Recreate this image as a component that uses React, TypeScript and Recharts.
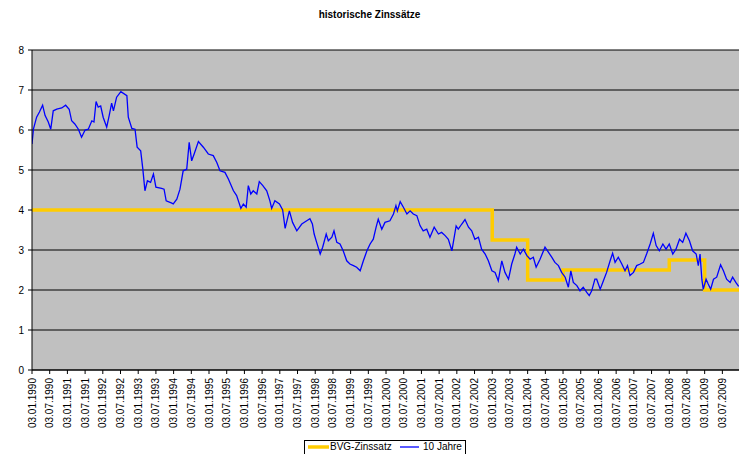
import React from "react";
import { LineChart, Line, XAxis, YAxis, CartesianGrid } from "recharts";

const TITLE = "historische Zinssätze";
const SERIES_BVG = "BVG-Zinssatz";
const SERIES_10Y = "10 Jahre";

const X_TICK_LABELS = [
  "03.01.1990", "03.07.1990", "03.01.1991", "03.07.1991", "03.01.1992", "03.07.1992",
  "03.01.1993", "03.07.1993", "03.01.1994", "03.07.1994", "03.01.1995", "03.07.1995",
  "03.01.1996", "03.07.1996", "03.01.1997", "03.07.1997", "03.01.1998", "03.07.1998",
  "03.01.1999", "03.07.1999", "03.01.2000", "03.07.2000", "03.01.2001", "03.07.2001",
  "03.01.2002", "03.07.2002", "03.01.2003", "03.07.2003", "03.01.2004", "03.07.2004",
  "03.01.2005", "03.07.2005", "03.01.2006", "03.07.2006", "03.01.2007", "03.07.2007",
  "03.01.2008", "03.07.2008", "03.01.2009", "03.07.2009",
];
const Y_TICKS = [0, 1, 2, 3, 4, 5, 6, 7, 8];
const X_DOMAIN = [1990, 2009.97];

// 10-year yield: dates as decimal years, values in %
const TEN_YEAR_DATES = [
  1990.00, 1990.04, 1990.13, 1990.21, 1990.30, 1990.37, 1990.46, 1990.53, 1990.60, 1990.70,
  1990.84, 1990.95, 1991.05, 1991.12, 1991.21, 1991.31, 1991.40, 1991.50, 1991.59, 1991.69,
  1991.75, 1991.81, 1991.87, 1991.94, 1992.01, 1992.11, 1992.18, 1992.25, 1992.30, 1992.39,
  1992.51, 1992.68, 1992.72, 1992.82, 1992.91, 1992.97, 1993.07, 1993.13, 1993.19, 1993.26,
  1993.35, 1993.43, 1993.50, 1993.66, 1993.73, 1993.79, 1993.95, 1993.99, 1994.09, 1994.18,
  1994.27, 1994.37, 1994.44, 1994.51, 1994.58, 1994.70, 1994.84, 1994.98, 1995.12, 1995.22,
  1995.31, 1995.45, 1995.55, 1995.69, 1995.78, 1995.90, 1995.97, 1996.05, 1996.11, 1996.18,
  1996.25, 1996.35, 1996.42, 1996.52, 1996.63, 1996.72, 1996.77, 1996.86, 1996.99, 1997.08,
  1997.15, 1997.27, 1997.36, 1997.48, 1997.62, 1997.76, 1997.85, 1997.92, 1997.97, 1998.04,
  1998.14, 1998.21, 1998.31, 1998.37, 1998.47, 1998.53, 1998.61, 1998.70, 1998.79, 1998.89,
  1998.98, 1999.08, 1999.17, 1999.27, 1999.36, 1999.46, 1999.55, 1999.64, 1999.72, 1999.78,
  1999.88, 1999.97, 2000.11, 2000.21, 2000.28, 2000.32, 2000.40, 2000.49, 2000.59, 2000.68,
  2000.77, 2000.87, 2000.96, 2001.05, 2001.15, 2001.24, 2001.36, 2001.48, 2001.57, 2001.67,
  2001.76, 2001.86, 2001.98, 2002.04, 2002.14, 2002.23, 2002.33, 2002.42, 2002.51, 2002.61,
  2002.70, 2002.80, 2002.89, 2002.99, 2003.08, 2003.17, 2003.27, 2003.36, 2003.46, 2003.55,
  2003.64, 2003.69, 2003.79, 2003.88, 2003.98, 2004.07, 2004.16, 2004.24, 2004.35, 2004.49,
  2004.59, 2004.68, 2004.77, 2004.87, 2004.96, 2005.06, 2005.15, 2005.22, 2005.29, 2005.39,
  2005.48, 2005.57, 2005.67, 2005.74, 2005.81, 2005.90, 2005.95, 2006.05, 2006.14, 2006.23,
  2006.33, 2006.40, 2006.47, 2006.56, 2006.66, 2006.75, 2006.82, 2006.89, 2006.99, 2007.08,
  2007.18, 2007.27, 2007.36, 2007.46, 2007.55, 2007.63, 2007.72, 2007.82, 2007.91, 2008.00,
  2008.10, 2008.19, 2008.29, 2008.38, 2008.47, 2008.57, 2008.66, 2008.76, 2008.82, 2008.87,
  2008.92, 2008.96, 2009.04, 2009.10, 2009.17, 2009.25, 2009.34, 2009.45, 2009.53, 2009.62,
  2009.72, 2009.79, 2009.88, 2009.96,
];
const TEN_YEAR_VALUES = [
  5.65, 6.02, 6.32, 6.45, 6.62, 6.36, 6.20, 6.02, 6.48, 6.52,
  6.55, 6.62, 6.52, 6.23, 6.15, 6.02, 5.82, 6.00, 6.02, 6.23,
  6.20, 6.71, 6.57, 6.60, 6.32, 6.07, 6.36, 6.67, 6.48, 6.82,
  6.96, 6.86, 6.32, 6.04, 6.02, 5.57, 5.48, 5.03, 4.48, 4.73,
  4.69, 4.90, 4.57, 4.54, 4.52, 4.23, 4.17, 4.15, 4.27, 4.52,
  4.98, 5.02, 5.69, 5.23, 5.40, 5.71, 5.57, 5.40, 5.36, 5.19,
  4.98, 4.94, 4.77, 4.48, 4.36, 4.04, 4.15, 4.07, 4.61, 4.40,
  4.48, 4.40, 4.71, 4.61, 4.48, 4.23, 4.04, 4.23, 4.15, 4.00,
  3.54, 3.98, 3.69, 3.48, 3.65, 3.73, 3.78, 3.65, 3.40, 3.19,
  2.90, 3.07, 3.40, 3.23, 3.32, 3.48, 3.19, 3.15, 2.98, 2.73,
  2.65, 2.61, 2.57, 2.48, 2.73, 2.98, 3.15, 3.27, 3.57, 3.77,
  3.52, 3.69, 3.73, 3.90, 4.11, 3.98, 4.21, 4.07, 3.90, 3.98,
  3.90, 3.86, 3.61, 3.48, 3.52, 3.32, 3.57, 3.40, 3.44, 3.36,
  3.27, 2.98, 3.60, 3.52, 3.65, 3.76, 3.57, 3.48, 3.27, 3.32,
  3.02, 2.90, 2.73, 2.48, 2.44, 2.23, 2.73, 2.44, 2.27, 2.65,
  2.90, 3.07, 2.90, 3.02, 2.86, 2.77, 2.82, 2.57, 2.77, 3.07,
  2.94, 2.82, 2.69, 2.61, 2.44, 2.32, 2.07, 2.48, 2.19, 2.11,
  1.98, 2.07, 1.94, 1.86, 1.98, 2.27, 2.27, 2.02, 2.23, 2.44,
  2.73, 2.92, 2.69, 2.82, 2.65, 2.48, 2.61, 2.36, 2.44, 2.61,
  2.65, 2.69, 2.90, 3.15, 3.42, 3.11, 2.98, 3.15, 3.02, 3.15,
  2.90, 3.02, 3.27, 3.19, 3.42, 3.23, 2.98, 2.90, 2.61, 2.90,
  2.27, 2.02, 2.27, 2.15, 2.02, 2.27, 2.32, 2.63, 2.48, 2.27,
  2.19, 2.32, 2.19, 2.09,
];

// BVG minimum rate: step start dates and rates
const BVG_DATES = [1990.0, 2003.0, 2004.0, 2005.0, 2008.0, 2009.0, 2009.97];
const BVG_VALUES = [4.0, 3.25, 2.25, 2.5, 2.75, 2.0, 2.0];

const tenYearData = TEN_YEAR_DATES.map((t, i) => ({ t, v: TEN_YEAR_VALUES[i] }));
const bvgData = BVG_DATES.map((t, i) => ({ t, v: BVG_VALUES[i] }));

const xTickValues = X_TICK_LABELS.map((s) => {
  const [, mm, yyyy] = s.split(".");
  return Number(yyyy) + (mm === "07" ? 0.5 : 0);
});
const labelFor = (val: number) => {
  const idx = xTickValues.findIndex((v) => Math.abs(v - val) < 1e-6);
  return idx >= 0 ? X_TICK_LABELS[idx] : "";
};

const FONT = "'Liberation Sans', Arial, sans-serif";

const XTick = (props: any) => {
  const { x, y, payload } = props;
  return (
    <text
      x={x}
      y={y}
      transform={`rotate(-90, ${x}, ${y})`}
      textAnchor="end"
      dy="0.35em"
      fontSize={10}
      fontFamily={FONT}
      fill="#000"
    >
      {labelFor(payload.value)}
    </text>
  );
};

const W = 739;
const H = 454;

export default function App() {
  return (
    <div style={{ position: "absolute", left: 0, top: 0, width: W, height: H, background: "#fff", fontFamily: FONT }}>
      <div
        style={{
          position: "absolute",
          left: 0,
          top: 8,
          width: W,
          textAlign: "center",
          fontSize: 10,
          fontWeight: "bold",
          lineHeight: "14px",
        }}
      >
        {TITLE}
      </div>
      <LineChart width={W} height={H} margin={{ top: 50, right: 0, bottom: 0, left: 0 }}>
        <CartesianGrid vertical={false} stroke="#000" fill="#c0c0c0" />
        <XAxis
          type="number"
          dataKey="t"
          domain={X_DOMAIN}
          ticks={xTickValues}
          interval={0}
          height={84}
          tickSize={4}
          tickMargin={4}
          stroke="#000"
          tick={<XTick />}
          allowDataOverflow
        />
        <YAxis
          type="number"
          dataKey="v"
          domain={[0, 8]}
          ticks={Y_TICKS}
          width={32}
          tickSize={4}
          tickMargin={4}
          stroke="#000"
          tick={{ fontSize: 10, fill: "#000", fontFamily: FONT }}
          allowDataOverflow
        />
        <Line
          data={bvgData}
          dataKey="v"
          type="stepAfter"
          stroke="#ffcc00"
          strokeWidth={3.5}
          dot={false}
          isAnimationActive={false}
          name={SERIES_BVG}
        />
        <Line
          data={tenYearData}
          dataKey="v"
          type="linear"
          stroke="#0000ff"
          strokeWidth={1.3}
          dot={false}
          isAnimationActive={false}
          name={SERIES_10Y}
        />
      </LineChart>
      <div
        style={{
          position: "absolute",
          left: 304,
          top: 440,
          width: 162,
          height: 16,
          border: "1px solid #000",
          background: "#fff",
          boxSizing: "border-box",
          fontSize: 10,
        }}
      >
        <svg width={160} height={14} style={{ position: "absolute", left: 0, top: 0 }}>
          <line x1={3} y1={6} x2={24} y2={6} stroke="#ffcc00" strokeWidth={3.5} />
          <line x1={95} y1={6} x2={114} y2={6} stroke="#0000ff" strokeWidth={1.3} />
        </svg>
        <span style={{ position: "absolute", left: 25, top: 0, lineHeight: "12px" }}>{SERIES_BVG}</span>
        <span style={{ position: "absolute", left: 118, top: 0, lineHeight: "12px" }}>{SERIES_10Y}</span>
      </div>
    </div>
  );
}
